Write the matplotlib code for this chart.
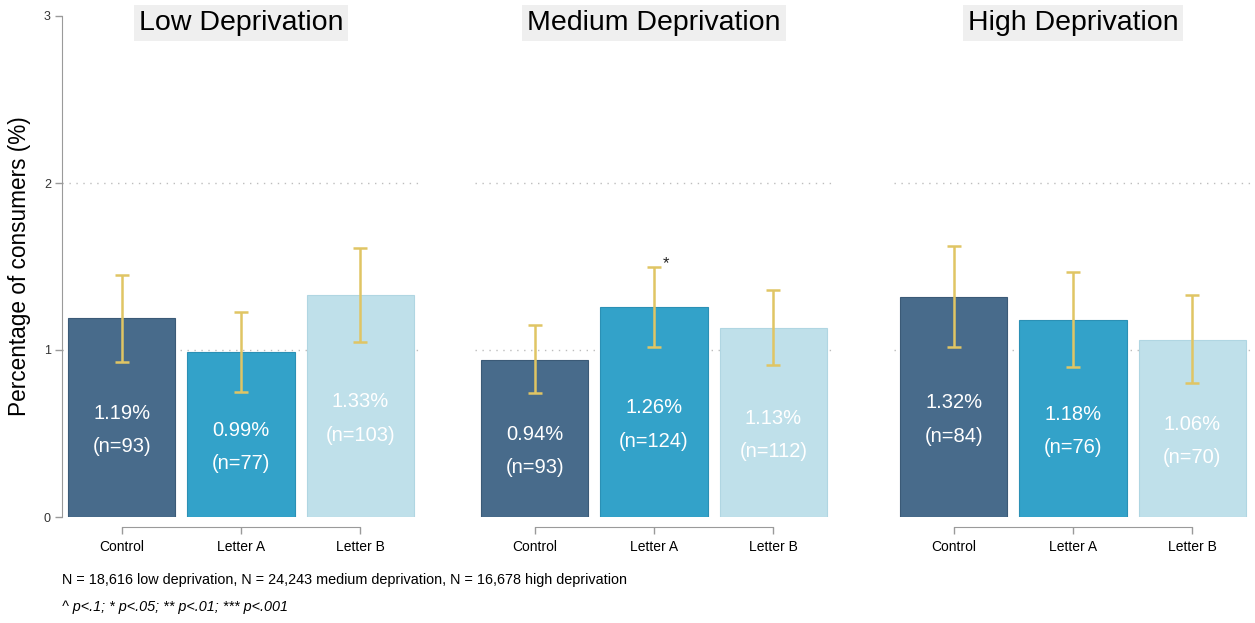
import matplotlib
matplotlib.use("Agg")
import matplotlib.pyplot as plt

plt.rcParams["font.family"] = ["Liberation Sans", "DejaVu Sans"]

# Share of consumers (%) per arm, with 95% confidence bounds and counts.
groups = ["Low Deprivation", "Medium Deprivation", "High Deprivation"]
arms = ["Control", "Letter A", "Letter B"]
pct_low = [1.19, 0.99, 1.33]
pct_medium = [0.94, 1.26, 1.13]
pct_high = [1.32, 1.18, 1.06]
ci_lo_low = [0.93, 0.75, 1.05]
ci_hi_low = [1.45, 1.23, 1.61]
ci_lo_medium = [0.74, 1.02, 0.91]
ci_hi_medium = [1.15, 1.50, 1.36]
ci_lo_high = [1.02, 0.90, 0.80]
ci_hi_high = [1.62, 1.47, 1.33]
n_low = [93, 77, 103]
n_medium = [93, 124, 112]
n_high = [84, 76, 70]
stars_low = ["", "", ""]
stars_medium = ["", "*", ""]
stars_high = ["", "", ""]
y_ticks = [0, 1, 2, 3]
footnote = ("N = 18,616 low deprivation, N = 24,243 medium deprivation, "
            "N = 16,678 high deprivation")
sig_note = "^ p<.1; * p<.05; ** p<.01; *** p<.001"

panels = [
    (pct_low, ci_lo_low, ci_hi_low, n_low, stars_low),
    (pct_medium, ci_lo_medium, ci_hi_medium, n_medium, stars_medium),
    (pct_high, ci_lo_high, ci_hi_high, n_high, stars_high),
]

bar_colors = ["#486b8b", "#33a2c9", "#bfe0ea"]
edge_colors = ["#3b5a77", "#2b90b5", "#b0d6e2"]
err_color = "#e0c564"
axis_grey = "#9a9a9a"

W, H = 1255, 623
fig = plt.figure(figsize=(W / 100, H / 100), dpi=100)

lefts = [62, 475, 894]
panel_w = 358
bottom_px, top_px = 517, 16

for i, (left, title, (pct, lo, hi, n, stars)) in enumerate(zip(lefts, groups, panels)):
    ax = fig.add_axes([left / W, 1 - bottom_px / H, panel_w / W, (bottom_px - top_px) / H])
    x = list(range(len(arms)))
    ax.bar(x, pct, width=0.9, color=bar_colors, edgecolor=edge_colors,
           linewidth=0.8, zorder=2)
    yerr = [[p - l for p, l in zip(pct, lo)], [h - p for p, h in zip(pct, hi)]]
    ax.errorbar(x, pct, yerr=yerr, fmt="none", ecolor=err_color,
                elinewidth=1.8, capsize=4.8, capthick=1.8, zorder=3)

    for xi, p, ni, h, s in zip(x, pct, n, hi, stars):
        y0 = p / 2 + 0.025
        ax.text(xi, y0, f"{p:.2f}%", ha="center", va="center",
                color="white", fontsize=14.5, zorder=4)
        ax.text(xi, y0 - 0.2, f"(n={ni})", ha="center", va="center",
                color="white", fontsize=14.5, zorder=4)
        if s:
            ax.text(xi + 0.1, h + 0.02, s, ha="center", va="center",
                    color="#222222", fontsize=12, zorder=4)

    for t in y_ticks[1:-1]:
        ax.axhline(t, color="#bdbdbd", linestyle=(0, (1, 4)), linewidth=1, zorder=1)

    ax.set_xlim(-0.5, 2.5)
    ax.set_ylim(0, 3)
    ax.set_xticks(x)
    ax.set_xticklabels(arms, fontsize=9.3, color="#222222")
    ax.tick_params(axis="x", length=5, width=1, color=axis_grey, pad=4)
    ax.spines["bottom"].set_position(("outward", 7.5))
    ax.spines["bottom"].set_bounds(0, 2)
    ax.spines["bottom"].set_color(axis_grey)
    ax.spines["top"].set_visible(False)
    ax.spines["right"].set_visible(False)

    if i == 0:
        ax.set_yticks(y_ticks)
        ax.tick_params(axis="y", length=5, width=1, color=axis_grey,
                       labelsize=9, labelcolor="#333333", pad=3)
        ax.spines["left"].set_color(axis_grey)
        ax.spines["left"].set_bounds(0, 3)
        ax.set_ylabel("Percentage of consumers (%)", fontsize=16.3, va="center")
        ax.yaxis.set_label_coords(-42 / panel_w, 0.5)
    else:
        ax.spines["left"].set_visible(False)
        ax.set_yticks([])

    fig.text((left + panel_w / 2) / W, 1 - 23 / H, title, ha="center", va="center",
             fontsize=20.5, color="black",
             bbox=dict(boxstyle="square,pad=0.18", facecolor="#efefef", edgecolor="none"))

fig.text(62 / W, 1 - 580 / H, footnote, fontsize=10.4, va="center", color="black")
fig.text(62 / W, 1 - 607 / H, sig_note, fontsize=10.4, va="center", style="italic",
         color="black")

fig.savefig("out.png", dpi=100)
